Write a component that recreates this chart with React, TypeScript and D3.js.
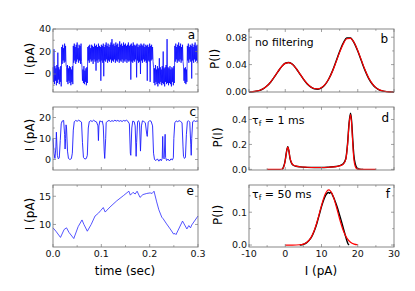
import * as d3 from "d3";

const FONT = "DejaVu Sans, Verdana, sans-serif";

// panel a: raw record, envelope (lo / hi) of every 2 ms slot, pA
const aStep = 0.002;
const aLo = [
  -7, -9, -6, -10, -8, -5, -9, -7, -11, 9,
  12, 10, 11, 8, -7, -9, -6, -8, -10, -7,
  -9, 10, 12, 9, 11, 13, 10, 12, 9, 11,
  -6, -8, -9, -7, -10, -8, 12, 10, 13, 11,
  12, 9, 13, 11, 3, 12, 10, 13, 11, -6,
  12, 10, -2, 12, 11, 13, 10, 12, 11, 13,
  10, 12, 11, 13, 10, 12, 11, 13, 10, 12,
  11, 13, 10, 12, 11, 13, 10, 12, 11, 12,
  -5, 11, 10, 12, 11, 13, -3, 12, 10, 11,
  0, 12, 10, 13, 11, 12, 10, -6, 12, 11,
  -7, 12, 13, 11, -8, -10, -7, -9, -11, -8,
  -9, -7, -10, -8, -9, -11, -7, -9, -8, -10,
  -8, -9, -11, -7, -10, -8, 11, 13, 10, 12,
  11, 13, 10, 12, 11, -6, -8, -9, -7, 12,
  10, 13, 11, -4, 12, 10, 13, 11, 12, 10,
];
const aHi = [
  6, 22, 7, 5, 8, 19, 6, 4, 7, 24,
  26, 23, 27, 25, 6, 8, 5, 7, 6, 4,
  7, 25, 27, 24, 26, 28, 23, 26, 25, 27,
  6, 4, 7, 3, 5, 6, 24, 25, 26, 23,
  26, 25, 24, 27, 25, 26, 24, 27, 25, 24,
  26, 25, 27, 24, 26, 28, 25, 27, 24, 26,
  28, 31, 26, 27, 25, 28, 26, 27, 24, 29,
  26, 27, 25, 28, 26, 27, 25, 26, 28, 25,
  26, 27, 25, 28, 26, 25, 26, 27, 24, 26,
  25, 27, 26, 25, 27, 24, 26, 25, 26, 24,
  27, 25, 26, 24, 6, 5, 8, 4, 7, 5,
  14, 6, 4, 7, 20, 5, 6, 8, 31, 6,
  5, 7, 4, 6, 5, 7, 25, 27, 24, 26,
  28, 25, 27, 24, 26, 7, 5, 6, 4, 25,
  27, 24, 26, 25, 27, 24, 26, 28, 25, 26,
];

// panel c: 1 ms filtered record [time s, current pA]
const cTrace = [
  [0, 10], [0.002, 3], [0.004, 0.5], [0.006, 6], [0.007, 13], [0.009, 2], [0.011, 0.3], [0.013, 0.8],
  [0.015, 9], [0.017, 17], [0.019, 18.3], [0.022, 18.6], [0.024, 12], [0.025, 5], [0.026, 10], [0.027, 16.5],
  [0.028, 15], [0.03, 4], [0.032, 0.5], [0.035, 0], [0.038, 0.4], [0.04, 3], [0.042, 14], [0.044, 18],
  [0.047, 18.6], [0.05, 18.2], [0.053, 18.7], [0.056, 18.3], [0.059, 17.8], [0.061, 8], [0.063, 1], [0.066, 0.2],
  [0.069, 0.5], [0.071, 2], [0.073, 15], [0.075, 18], [0.078, 18.5], [0.081, 18.1], [0.084, 18.7], [0.087, 18.2],
  [0.09, 17.9], [0.093, 16], [0.094, 9], [0.095, 16], [0.097, 18.4], [0.1, 18], [0.102, 18.3], [0.104, 16],
  [0.106, 4], [0.107, 0.5], [0.109, 10], [0.11, 17.5], [0.113, 18.3], [0.116, 18.6], [0.119, 18.1], [0.122, 18.5],
  [0.125, 18.2], [0.128, 18.7], [0.131, 18.3], [0.134, 18.6], [0.137, 18.2], [0.14, 18.5], [0.143, 18.1], [0.146, 18.6],
  [0.149, 18.3], [0.152, 18.7], [0.155, 18.2], [0.158, 17], [0.16, 3], [0.161, 2], [0.163, 15], [0.165, 18.3],
  [0.168, 18], [0.17, 16], [0.172, 1.5], [0.173, 8], [0.175, 18], [0.177, 18.5], [0.179, 17.5], [0.181, 4],
  [0.183, 16], [0.185, 18.4], [0.188, 18.1], [0.191, 17.5], [0.194, 12], [0.195, 11], [0.197, 17.8], [0.2, 18.5],
  [0.203, 18.2], [0.206, 16], [0.208, 3], [0.21, 0], [0.213, -0.5], [0.216, 0.3], [0.219, -0.8], [0.222, 0.2],
  [0.224, -0.6], [0.226, 0.5], [0.227, 11], [0.228, 1], [0.23, 0.3], [0.232, 12], [0.233, 1], [0.235, -0.5],
  [0.238, 0.2], [0.241, -0.7], [0.244, 0.3], [0.247, -0.2], [0.249, 0.8], [0.25, 10], [0.252, 17.5], [0.255, 18.4],
  [0.258, 18], [0.261, 18.5], [0.264, 18.1], [0.267, 17.5], [0.269, 6], [0.27, 1.5], [0.272, 0.5], [0.274, 1],
  [0.276, 12], [0.278, 18], [0.28, 18.5], [0.283, 17.8], [0.285, 7], [0.286, 2], [0.287, 10], [0.289, 18],
  [0.292, 18.5], [0.295, 18.1], [0.298, 18.4], [0.3, 18.2],
];

// panel e: 50 ms filtered record
const eTrace = [
  [0, 9.4], [0.006, 8.8], [0.0155, 7.7], [0.023, 9.1], [0.028, 9.4], [0.033, 8.6], [0.043, 7.5], [0.052, 9.6],
  [0.06, 10.8], [0.064, 10.0], [0.071, 8.8], [0.079, 10.0], [0.087, 11.5], [0.094, 12.0], [0.099, 12.5], [0.104, 13.0],
  [0.108, 12.2], [0.118, 13.1], [0.132, 14.2], [0.1455, 15.1], [0.157, 15.9], [0.16, 15.2], [0.1655, 15.7], [0.17, 15.4],
  [0.174, 15.9], [0.18, 14.8], [0.186, 15.3], [0.194, 15.5], [0.201, 15.6], [0.205, 15.5], [0.209, 15.9], [0.2145, 14.0],
  [0.219, 12.6], [0.225, 11.3], [0.228, 11.0], [0.235, 10.1], [0.2425, 9.2], [0.2495, 8.3], [0.2525, 8.4], [0.2545, 8.2],
  [0.259, 9.0], [0.268, 10.6], [0.277, 9.2], [0.281, 9.8], [0.2845, 9.4], [0.287, 9.9], [0.3, 11.5],
];

// panel b: histogram (data) and fit, P(I) on a 1 pA grid
const bCurrent = [
  -10, -9, -8, -7, -6, -5, -4, -3, -2, -1, 0, 1, 2, 3, 4, 5, 6, 7, 8, 9, 10,
  11, 12, 13, 14, 15, 16, 17, 18, 19, 20, 21, 22, 23, 24, 25, 26, 27, 28, 29, 30,
];
const bFit = [
  0.0002, 0.0005, 0.0012, 0.0026, 0.0052, 0.0092, 0.0149, 0.0222, 0.03, 0.0371, 0.0418,
  0.0429, 0.0403, 0.0344, 0.0269, 0.0192, 0.0126, 0.0078, 0.0051, 0.0046, 0.0065,
  0.0111, 0.0189, 0.0299, 0.0436, 0.0579, 0.0702, 0.0777, 0.0784, 0.0722, 0.0607,
  0.0465, 0.0325, 0.0207, 0.0121, 0.0064, 0.0031, 0.0014, 0.0006, 0.0002, 0.0001,
];
const bData = [
  0.0, 0.0004, 0.0011, 0.0025, 0.005, 0.009, 0.0147, 0.022, 0.0298, 0.037, 0.042,
  0.0431, 0.0404, 0.0343, 0.0266, 0.0188, 0.0121, 0.0074, 0.0047, 0.0041, 0.006,
  0.0108, 0.019, 0.0305, 0.0446, 0.0592, 0.0716, 0.0791, 0.0789, 0.0718, 0.0598,
  0.0455, 0.0316, 0.02, 0.0117, 0.0061, 0.0029, 0.0013, 0.0005, 0.0002, 0.0001,
];

// panel d: tau_f = 1 ms [I, P]
const dFit = [
  [-5, 0], [-3, 0], [-1.5, 0], [-0.8, 0.003], [-0.3, 0.03], [0, 0.07], [0.3, 0.13], [0.7, 0.178],
  [1.0, 0.15], [1.3, 0.095], [1.7, 0.055], [2.2, 0.035], [3, 0.026], [4, 0.021], [6, 0.017], [8, 0.015],
  [10, 0.015], [12, 0.017], [14, 0.022], [15, 0.028], [16, 0.042], [16.7, 0.08], [17.2, 0.2], [17.6, 0.36],
  [18, 0.44], [18.3, 0.37], [18.6, 0.22], [18.9, 0.09], [19.3, 0.025], [19.8, 0.004], [20.5, 0], [22, 0], [25, 0],
];
const dData = [
  [-0.8, 0], [-0.3, 0.035], [0, 0.075], [0.3, 0.135], [0.7, 0.182], [1.0, 0.148], [1.3, 0.09], [1.7, 0.052],
  [2.2, 0.033], [3, 0.025], [4, 0.02], [6, 0.016], [8, 0.015], [10, 0.015], [12, 0.018], [14, 0.023],
  [15, 0.03], [16, 0.045], [16.7, 0.085], [17.2, 0.21], [17.6, 0.37], [18, 0.45], [18.3, 0.39], [18.6, 0.25],
  [18.9, 0.12], [19.3, 0.045], [19.8, 0.012], [20.5, 0.002], [21.5, 0],
];

// panel f: tau_f = 50 ms
const fFit = [
  [0, 0], [2, 0], [4, 0.0008], [5, 0.0028], [6, 0.0084], [7, 0.0209], [8, 0.0443], [9, 0.0794], [10, 0.1204],
  [11, 0.1546], [12, 0.168], [13, 0.1546], [14, 0.1204], [15, 0.0794], [16, 0.0443], [17, 0.0209], [18, 0.0084],
  [19, 0.0028], [20, 0.0008],
];
const fData = [
  [4, 0], [5, 0.002], [6, 0.008], [7, 0.02], [7.5, 0.03], [8, 0.043], [8.5, 0.058], [9, 0.077], [9.5, 0.097],
  [10, 0.117], [10.5, 0.134], [11, 0.148], [11.5, 0.157], [12, 0.16], [12.3, 0.158], [12.6, 0.161], [13, 0.153],
  [13.5, 0.141], [14, 0.126], [14.5, 0.11], [15, 0.091], [15.5, 0.072], [16, 0.052], [16.5, 0.032], [17, 0.013],
  [17.3, 0.004], [17.6, 0],
];

const timeTicks = [0, 0.1, 0.2, 0.3];
const timeMinor = [0.05, 0.15, 0.25];
const currTicks = [-10, 0, 10, 20, 30];
const currMinor = [-5, 5, 15, 25];

const LEFT: [number, number] = [53, 198];
const RIGHT: [number, number] = [249, 394];
const ROWS: [number, number][] = [[29, 92], [107, 170], [185, 247]];

const FRAME = "#7a7a7a";

type Scale = d3.ScaleLinear<number, number>;

function Frame({ xs, ys, xMajor, xMinor, yMajor, yMinor, yFmt, xFmt }: {
  xs: Scale; ys: Scale; xMajor: number[]; xMinor: number[]; yMajor: number[]; yMinor: number[];
  yFmt: (v: number) => string; xFmt?: (v: number) => string;
}) {
  const [x0, x1] = xs.range();
  const [y1, y0] = ys.range();
  return (
    <g>
      <rect x={x0} y={y0} width={x1 - x0} height={y1 - y0} fill="none" stroke={FRAME} strokeWidth={0.9} />
      {[...xMajor.map((v) => [v, 3]), ...xMinor.map((v) => [v, 1.8])].map(([v, l], i) => (
        <g key={"x" + i} stroke={FRAME} strokeWidth={0.7}>
          <line x1={xs(v)} x2={xs(v)} y1={y1} y2={y1 - l} />
          <line x1={xs(v)} x2={xs(v)} y1={y0} y2={y0 + l} />
        </g>
      ))}
      {[...yMajor.map((v) => [v, 3]), ...yMinor.map((v) => [v, 1.8])].map(([v, l], i) => (
        <g key={"y" + i} stroke={FRAME} strokeWidth={0.7}>
          <line x1={x0} x2={x0 + l} y1={ys(v)} y2={ys(v)} />
          <line x1={x1} x2={x1 - l} y1={ys(v)} y2={ys(v)} />
        </g>
      ))}
      {yMajor.map((v) => (
        <text key={"yl" + v} x={x0 - 2} y={ys(v)} dy="0.36em" textAnchor="end" fontSize={9.5} fill="#111">
          {yFmt(v)}
        </text>
      ))}
      {xFmt &&
        xMajor.map((v) => (
          <text key={"xl" + v} x={xs(v)} y={y1 + 10} textAnchor="middle" fontSize={9.5} fill="#111">
            {xFmt(v)}
          </text>
        ))}
    </g>
  );
}

export default function App() {
  const tScale = () => d3.scaleLinear().domain([0, 0.3]).range(LEFT);
  const iScale = () => d3.scaleLinear().domain([-10, 30]).range(RIGHT);

  const ya = d3.scaleLinear().domain([-16, 40]).range([ROWS[0][1], ROWS[0][0]]);
  const yc = d3.scaleLinear().domain([-5, 25]).range([ROWS[1][1], ROWS[1][0]]);
  const ye = d3.scaleLinear().domain([6, 17]).range([ROWS[2][1], ROWS[2][0]]);
  const yb = d3.scaleLinear().domain([0, 0.092]).range([ROWS[0][1], ROWS[0][0]]);
  const yd = d3.scaleLinear().domain([-0.005, 0.5]).range([ROWS[1][1], ROWS[1][0]]);
  const yf = d3.scaleLinear().domain([-0.006, 0.183]).range([ROWS[2][1], ROWS[2][0]]);

  const xa = tScale(), xc = tScale(), xe = tScale();
  const xb = iScale(), xd = iScale(), xf = iScale();

  // raw trace drawn as a zigzag through each slot's envelope
  const aPts: [number, number][] = [];
  aLo.forEach((lo, i) => {
    aPts.push([i * aStep, aHi[i]]);
    aPts.push([i * aStep + aStep / 2, lo]);
  });
  const lineA = d3.line<[number, number]>().x((d) => xa(d[0])).y((d) => ya(d[1]));
  const lineC = d3.line<number[]>().x((d) => xc(d[0])).y((d) => yc(d[1]));
  const lineE = d3.line<number[]>().x((d) => xe(d[0])).y((d) => ye(d[1]));
  const histLine = (xs: Scale, ys: Scale) =>
    d3.line<number[]>().x((d) => xs(d[0])).y((d) => ys(d[1])).curve(d3.curveMonotoneX);

  const bFitPts = bCurrent.map((v, i) => [v, bFit[i]]);
  const bDataPts = bCurrent.map((v, i) => [v, bData[i]]);

  const f2 = (v: number) => v.toFixed(2);
  const f1 = (v: number) => v.toFixed(1);
  const f0 = (v: number) => String(v);

  return (
    <svg width={415} height={291} style={{ position: "absolute", left: 0, top: 0, background: "#fff" }} fontFamily={FONT}>
      {/* left column */}
      <path d={lineA(aPts) ?? ""} fill="none" stroke="#0000ff" strokeWidth={0.75} />
      <path d={lineC(cTrace) ?? ""} fill="none" stroke="#1a1aff" strokeWidth={0.9} />
      <path d={lineE(eTrace) ?? ""} fill="none" stroke="#2a2aff" strokeWidth={0.8} />
      <Frame xs={xa} ys={ya} xMajor={timeTicks} xMinor={timeMinor} yMajor={[0, 20, 40]} yMinor={[-10, 10, 30]} yFmt={f0} />
      <Frame xs={xc} ys={yc} xMajor={timeTicks} xMinor={timeMinor} yMajor={[0, 10, 20]} yMinor={[5, 15]} yFmt={f0} />
      <Frame xs={xe} ys={ye} xMajor={timeTicks} xMinor={timeMinor} yMajor={[10, 15]} yMinor={[]} yFmt={f0} xFmt={f1} />

      {/* right column */}
      <path d={histLine(xb, yb)(bDataPts) ?? ""} fill="none" stroke="#000" strokeWidth={1.4} />
      <path d={histLine(xb, yb)(bFitPts) ?? ""} fill="none" stroke="#ff0000" strokeWidth={1.2} />
      <path d={histLine(xd, yd)(dData) ?? ""} fill="none" stroke="#000" strokeWidth={1.4} />
      <path d={histLine(xd, yd)(dFit) ?? ""} fill="none" stroke="#ff0000" strokeWidth={1.2} />
      <path d={histLine(xf, yf)(fData) ?? ""} fill="none" stroke="#000" strokeWidth={1.4} />
      <path d={histLine(xf, yf)(fFit) ?? ""} fill="none" stroke="#ff0000" strokeWidth={1.2} />
      <Frame xs={xb} ys={yb} xMajor={currTicks} xMinor={currMinor} yMajor={[0, 0.04, 0.08]} yMinor={[0.02, 0.06]} yFmt={f2} />
      <Frame xs={xd} ys={yd} xMajor={currTicks} xMinor={currMinor} yMajor={[0, 0.2, 0.4]} yMinor={[0.1, 0.3]} yFmt={f1} />
      <Frame xs={xf} ys={yf} xMajor={currTicks} xMinor={currMinor} yMajor={[0, 0.1]} yMinor={[0.05, 0.15]} yFmt={f1} xFmt={f0} />

      {/* panel letters */}
      <g fontSize={12} fill="#000">
        <text x={195} y={38.5} textAnchor="end">a</text>
        <text x={196} y={116} textAnchor="end">c</text>
        <text x={194} y={195} textAnchor="end">e</text>
        <text x={388} y={43} textAnchor="end">b</text>
        <text x={389} y={121.5} textAnchor="end">d</text>
        <text x={390} y={198} textAnchor="end">f</text>
      </g>

      {/* annotations */}
      <text x={255} y={45.5} fontSize={10.8}>no filtering</text>
      <text x={252} y={123.5} fontSize={11}>
        τ<tspan fontSize={7.5} dy={2.5}>f</tspan>
        <tspan dy={-2.5}> = 1 ms</tspan>
      </text>
      <text x={252} y={197.5} fontSize={11}>
        τ<tspan fontSize={7.5} dy={2.5}>f</tspan>
        <tspan dy={-2.5}> = 50 ms</tspan>
      </text>

      {/* axis titles */}
      <g fontSize={12} textAnchor="middle" fill="#000">
        <text transform="translate(33.5,59) rotate(-90)">I (pA)</text>
        <text transform="translate(33.5,135) rotate(-90)">I (pA)</text>
        <text transform="translate(33.5,214) rotate(-90)">I (pA)</text>
        <text transform="translate(218.5,59) rotate(-90)">P(I)</text>
        <text transform="translate(221.5,137.5) rotate(-90)">P(I)</text>
        <text transform="translate(221.5,215) rotate(-90)">P(I)</text>
        <text x={125} y={275}>time (sec)</text>
        <text x={321} y={274.5}>I (pA)</text>
      </g>
    </svg>
  );
}
